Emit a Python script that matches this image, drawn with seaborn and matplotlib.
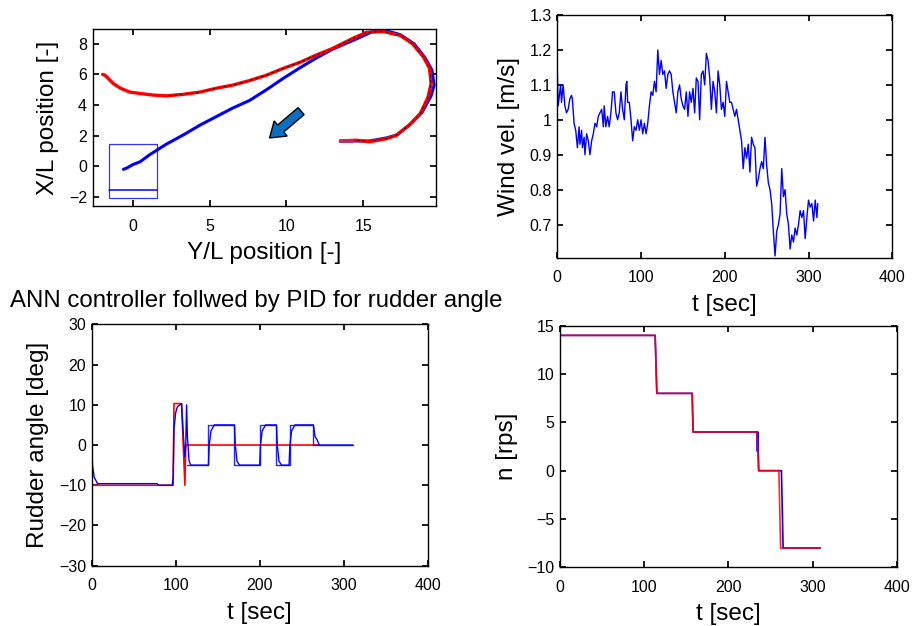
import numpy as np
import pandas as pd
import matplotlib
matplotlib.use("Agg")
import matplotlib.pyplot as plt
import matplotlib.patches as mpatches
from matplotlib.ticker import FormatStrFormatter
import seaborn as sns

# ---------------- data ----------------
# ship trajectory, red run (Y/L, X/L)
red_y = [13.5, 14.5, 15.4, 16.5, 17.1, 18.0, 18.7, 19.2, 19.4, 19.3, 18.9, 18.2, 17.4,
         16.3, 15.2, 14.3, 13.0, 11.9, 10.9, 9.8, 8.7, 7.6, 6.5, 5.45, 4.4, 3.3, 2.2,
         1.35, 0.5, -0.2, -0.8, -1.25, -1.6, -1.8, -1.95]
red_x = [1.65, 1.7, 1.6, 1.8, 2.0, 2.7, 3.45, 4.5, 5.4, 6.4, 7.15, 8.0, 8.55,
         8.8, 8.75, 8.35, 7.7, 7.25, 6.8, 6.4, 5.95, 5.6, 5.3, 5.1, 4.85, 4.7, 4.6,
         4.65, 4.75, 4.85, 5.1, 5.4, 5.75, 5.95, 6.0]

# ship trajectory, blue run (Y/L, X/L)
blue_y = [13.6, 15.4, 16.5, 17.2, 18.1, 18.8, 19.4, 19.6, 19.45, 19.0, 18.3, 17.4,
          16.5, 15.6, 14.5, 13.0, 11.9, 10.9, 9.8, 8.7, 7.6, 6.5, 5.45, 4.4, 3.3,
          2.2, 1.1, 0.5, 0.0, -0.4, -0.6]
blue_x = [1.65, 1.65, 1.85, 2.05, 2.8, 3.5, 4.6, 5.3, 6.3, 7.1, 8.0, 8.6,
          8.85, 8.8, 8.3, 7.65, 7.05, 6.45, 5.75, 5.0, 4.3, 3.8, 3.25, 2.7, 2.05,
          1.45, 0.75, 0.3, 0.1, -0.13, -0.2]

# target berth box
box_y = [-1.55, 1.55, 1.55, -1.55, -1.55]
box_x = [1.45, 1.45, -2.05, -2.05, 1.45]
box_mid_y = [-1.55, 1.55]
box_mid_x = [-1.54, -1.54]

# initial ship outline
ship_y = [13.5, 14.3, 14.3, 13.5, 13.5]
ship_x = [1.58, 1.58, 1.74, 1.74, 1.58]

# wind velocity
wind_t = [0, 1, 2, 4, 5, 7, 9, 11, 13, 15, 17, 18, 20, 22, 24, 26, 27, 29, 30, 32, 33,
          35, 37, 39, 41, 43, 45, 47, 49, 51, 53, 55, 56, 58, 60, 62, 64, 66, 68, 70,
          72, 74, 76, 78, 80, 82, 83, 84, 86, 88, 90, 92, 94, 96, 98, 100, 102, 104,
          106, 108, 110, 112, 114, 116, 118, 120, 122, 124, 126, 128, 130, 132, 134,
          136, 138, 140, 142, 144, 146, 148, 150, 152, 154, 156, 158, 160, 162, 164,
          166, 168, 170, 172, 174, 176, 178, 180, 182, 184, 186, 188, 190, 192, 194,
          196, 198, 200, 202, 204, 206, 208, 210, 212, 214, 216, 218, 220, 222, 224,
          226, 228, 230, 232, 234, 236, 238, 240, 242, 244, 246, 248, 250, 252, 254,
          256, 258, 260, 262, 264, 266, 268, 270, 272, 274, 276, 278, 280, 282, 284,
          286, 288, 290, 292, 294, 296, 298, 300, 302, 304, 306, 308, 310, 311]
wind_v = [1.14, 1.04, 1.06, 1.10, 1.05, 1.10, 1.04, 1.02, 1.03, 1.06, 1.07, 1.06, 0.99,
          0.97, 0.92, 0.98, 0.93, 0.97, 0.92, 0.95, 0.90, 0.96, 0.94, 0.90, 0.94, 0.96,
          0.99, 0.98, 1.01, 1.02, 1.03, 0.98, 1.04, 0.98, 1.01, 0.98, 1.02, 1.08, 1.08,
          1.02, 1.00, 1.02, 1.08, 1.03, 1.00, 1.10, 1.11, 1.05, 1.05, 1.00, 0.94, 0.98,
          0.97, 1.00, 0.97, 1.00, 0.96, 0.99, 0.96, 0.99, 1.04, 1.08, 1.07, 1.11, 1.08,
          1.20, 1.13, 1.17, 1.13, 1.14, 1.09, 1.13, 1.14, 1.13, 1.08, 1.05, 1.02, 1.08,
          1.10, 1.06, 1.04, 1.03, 1.08, 1.01, 1.08, 1.05, 1.09, 1.02, 1.12, 1.11, 1.00,
          1.13, 1.14, 1.10, 1.19, 1.17, 1.12, 1.03, 1.11, 1.08, 1.02, 1.14, 1.10, 1.03,
          1.05, 1.01, 1.11, 1.08, 1.05, 1.05, 1.03, 1.01, 1.03, 1.00, 0.97, 0.94, 0.86,
          0.92, 0.89, 0.93, 0.85, 0.95, 0.93, 0.92, 0.81, 0.83, 0.86, 0.88, 0.86, 0.95,
          0.87, 0.82, 0.80, 0.76, 0.68, 0.61, 0.68, 0.70, 0.73, 0.86, 0.78, 0.80, 0.73,
          0.70, 0.63, 0.67, 0.65, 0.69, 0.67, 0.70, 0.74, 0.72, 0.74, 0.66, 0.72, 0.77,
          0.75, 0.76, 0.71, 0.77, 0.72, 0.76]

# rudder angle: command (red), ANN step output (blue), response (blue)
rud_cmd_t = [0, 97, 98, 107, 111, 112, 270]
rud_cmd_v = [-10, -10, 10.3, 10.3, -10, 0, 0]
rud_step_t = [113, 139, 139, 170, 170, 200, 200, 220, 220, 236, 236, 264, 264, 311]
rud_step_v = [-5, -5, 5, 5, -5, -5, 5, 5, -5, -5, 5, 5, 0, 0]
rud_resp_t = [0, 1, 3, 7, 78, 80, 96, 97, 98, 100, 102, 107, 109, 111, 112, 113, 114,
              116, 118, 139, 140, 142, 146, 170, 171, 173, 176, 200, 201, 203, 207,
              220, 221, 223, 226, 235, 236, 238, 242, 264, 266, 268, 271, 311]
rud_resp_v = [0, -5, -8, -9.6, -9.6, -10, -10, -8, 4, 8, 9.5, 10.3, 3, -3, 0, 10, 2,
              -4, -5, -5, 0, 3.5, 5, 5, 0, -4, -5, -5, 0, 3.5, 5,
              5, 0, -4, -5, -5, 0, 3.5, 5, 5, 2, 1.5, 0, 0]

# propeller revolution
n_blue_t = [0, 113, 115, 157, 158, 234, 234.5, 235, 236, 263, 265, 309]
n_blue_v = [14, 14, 8, 8, 4, 4, 2, 4, 0, 0, -8, -8]
n_red_t = [0, 113, 115, 157, 158, 234, 236, 260, 262, 309]
n_red_v = [14, 14, 8, 8, 4, 4, 0, 0, -8, -8]

# ---------------- style ----------------
sns.set_theme(style="ticks")
plt.rcParams.update({
    "font.family": ["Liberation Sans", "DejaVu Sans"],
    "xtick.direction": "in", "ytick.direction": "in",
    "xtick.top": True, "ytick.right": True,
    "xtick.major.size": 4, "ytick.major.size": 4,
    "axes.linewidth": 1.0, "axes.edgecolor": "black",
    "xtick.color": "black", "ytick.color": "black",
    "xtick.labelsize": 11.5, "ytick.labelsize": 11.5,
    "axes.labelsize": 17.5, "text.color": "black", "axes.labelcolor": "black",
})

BLUE = "#0000FF"
RED = "#FF0000"

fig = plt.figure(figsize=(9.13, 6.26), dpi=100)
ax1 = fig.add_axes([0.1015, 0.6709, 0.3757, 0.2823])
ax2 = fig.add_axes([0.6104, 0.5883, 0.3669, 0.3877])
ax3 = fig.add_axes([0.1004, 0.0963, 0.3680, 0.3856])
ax4 = fig.add_axes([0.6134, 0.0937, 0.3688, 0.3860])


def line(ax, x, y, **kw):
    df = pd.DataFrame({"x": x, "y": y})
    sns.lineplot(data=df, x="x", y="y", ax=ax, sort=False, estimator=None, **kw)


# --- trajectory ---
line(ax1, box_y, box_x, color=BLUE, lw=0.9, alpha=0.8)
line(ax1, box_mid_y, box_mid_x, color=BLUE, lw=1.1)
line(ax1, blue_y, blue_x, color=BLUE, lw=2.2)
line(ax1, red_y, red_x, color=RED, lw=2.4)
line(ax1, red_y[:27], red_x[:27], color="black", lw=0.5, dashes=(4, 4))
line(ax1, ship_y, ship_x, color="#C0306A", lw=1.2)
ax1.add_patch(mpatches.FancyArrow(10.95, 3.6, -2.05, -1.75, width=0.6,
                                  head_width=1.3, head_length=0.95,
                                  length_includes_head=True,
                                  fc="#0A6FC0", ec="black", lw=1.0, zorder=5))
ax1.set_xlim(-2.6, 19.7)
ax1.set_ylim(-2.6, 8.95)
ax1.set_xticks([0, 5, 10, 15])
ax1.set_yticks([-2, 0, 2, 4, 6, 8])
ax1.set_xlabel("Y/L position [-]")
ax1.set_ylabel("X/L position [-]")

# --- wind ---
line(ax2, wind_t, wind_v, color=BLUE, lw=1.0)
ax2.set_xlim(0, 400)
ax2.set_ylim(0.605, 1.3)
ax2.set_xticks([0, 100, 200, 300, 400])
ax2.set_yticks([0.7, 0.8, 0.9, 1.0, 1.1, 1.2, 1.3])
ax2.yaxis.set_major_formatter(FormatStrFormatter("%g"))
ax2.set_xlabel("t [sec]")
ax2.set_ylabel("Wind vel. [m/s]")

# --- rudder ---
line(ax3, rud_cmd_t, rud_cmd_v, color=RED, lw=1.2)
line(ax3, rud_step_t, rud_step_v, color=BLUE, lw=1.0, alpha=0.85)
line(ax3, rud_resp_t, rud_resp_v, color=BLUE, lw=1.0)
ax3.set_xlim(0, 400)
ax3.set_ylim(-30, 30)
ax3.set_xticks([0, 100, 200, 300, 400])
ax3.set_yticks([-30, -20, -10, 0, 10, 20, 30])
ax3.set_xlabel("t [sec]")
ax3.set_ylabel("Rudder angle [deg]")
fig.text(10 / 913, 1 - 301 / 626, "ANN controller follwed by PID for rudder angle",
         fontsize=17.3, ha="left", va="center")

# --- propeller ---
line(ax4, n_blue_t, n_blue_v, color=BLUE, lw=1.2)
line(ax4, n_red_t, n_red_v, color=RED, lw=1.2, alpha=0.85)
ax4.set_xlim(0, 400)
ax4.set_ylim(-10, 15)
ax4.set_xticks([0, 100, 200, 300, 400])
ax4.set_yticks([-10, -5, 0, 5, 10, 15])
ax4.set_xlabel("t [sec]")
ax4.set_ylabel("n [rps]")

for ax in (ax1, ax2, ax3, ax4):
    for s in ax.spines.values():
        s.set_visible(True)
    ax.tick_params(axis="x", top=True, direction="in", pad=9)
    ax.tick_params(axis="y", right=True, direction="in", pad=4)
    ax.xaxis.labelpad = 6
    ax.yaxis.labelpad = 7

fig.savefig("out.png", dpi=100, facecolor="white")
